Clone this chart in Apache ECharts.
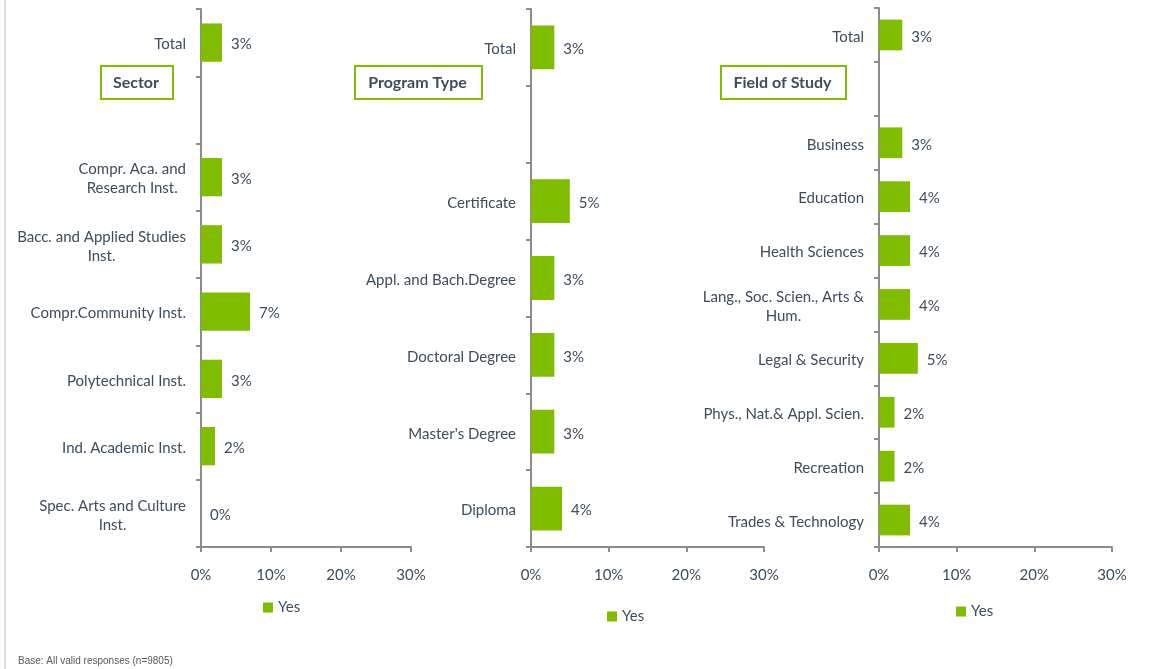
<!DOCTYPE html>
<html>
<head>
<meta charset="utf-8">
<script src="https://cdn.jsdelivr.net/npm/echarts@6/dist/echarts.min.js"></script>
<style>
html,body{margin:0;padding:0;background:#fff;}
#c{width:1151px;height:669px;}
</style>
</head>
<body>
<div id="c"></div>
<script>
// ---- data ----
const sectorCategories = ['Total', '', 'Compr. Aca. and\nResearch Inst.', 'Bacc. and Applied Studies\nInst.', 'Compr.Community Inst.', 'Polytechnical Inst.', 'Ind. Academic Inst.', 'Spec. Arts and Culture\nInst.'];
const sectorValues = [3, null, 3, 3, 7, 3, 2, 0];

const programCategories = ['Total', '', 'Certificate', 'Appl. and Bach.Degree', 'Doctoral Degree', "Master's Degree", 'Diploma'];
const programValues = [3, null, 5, 3, 3, 3, 4];

const fieldCategories = ['Total', '', 'Business', 'Education', 'Health Sciences', 'Lang., Soc. Scien., Arts &\nHum.', 'Legal & Security', 'Phys., Nat.& Appl. Scien.', 'Recreation', 'Trades & Technology'];
const fieldValues = [3, null, 3, 4, 4, 4, 5, 2, 2, 4];

const xTicks = [0, 10, 20, 30];
const panelTitles = ['Sector', 'Program Type', 'Field of Study'];
const seriesName = 'Yes';

// ---- style ----
const GREEN = '#80bc00';
const TXT = '#3d4d5c';
const AXIS = '#8c8c8c';
const FONT = 'Lato, "Open Sans", sans-serif';
const FS = 15;

const chart = echarts.init(document.getElementById('c'), null, {renderer: 'canvas'});

const grids = [
  {left: 201, top: 9, width: 210, height: 538},
  {left: 531, top: 9, width: 233, height: 538},
  {left: 879, top: 8, width: 233, height: 539}
];
const cats = [sectorCategories, programCategories, fieldCategories];
const vals = [sectorValues, programValues, fieldValues];

function catFormatter(v) {
  return v.split('\n').map(l => '{c|' + l + '}').join('\n');
}

const xAxes = grids.map((g, i) => ({
  type: 'value', gridIndex: i, min: xTicks[0], max: xTicks[xTicks.length - 1], interval: 10,
  axisLine: {show: true, lineStyle: {color: AXIS, width: 2}},
  axisTick: {show: true, length: 5, lineStyle: {color: AXIS, width: 2}},
  splitLine: {show: false},
  axisLabel: {formatter: '{value}%', color: TXT, fontSize: FS, fontFamily: FONT, margin: 21}
}));

const yAxes = grids.map((g, i) => ({
  type: 'category', gridIndex: i, data: cats[i], inverse: true,
  axisLine: {show: true, lineStyle: {color: AXIS, width: 2}},
  axisTick: {show: true, length: 5, lineStyle: {color: AXIS, width: 2}},
  axisLabel: {
    color: TXT, fontSize: FS, fontFamily: FONT, margin: 15, align: 'right',
    padding: [4, 0, 0, 0],
    formatter: catFormatter,
    rich: {c: {align: 'center', color: TXT, fontSize: FS, fontFamily: FONT, lineHeight: 19}}
  }
}));

const series = grids.map((g, i) => ({
  name: seriesName, type: 'bar', xAxisIndex: i, yAxisIndex: i,
  data: vals[i], barCategoryGap: '43%',
  itemStyle: {color: GREEN},
  label: {show: true, position: 'right', distance: 9, offset: [0, 2], formatter: '{c}%', color: TXT, fontSize: FS, fontFamily: FONT}
}));

const legendPos = [{left: 263, top: 600}, {left: 607, top: 609}, {left: 956, top: 604}];
const legends = legendPos.map(p => ({
  data: [seriesName], left: p.left, top: p.top, padding: 0, itemWidth: 10, itemHeight: 10, icon: 'rect',
  itemGap: 4, textStyle: {color: TXT, fontSize: FS, fontFamily: FONT}, selectedMode: false
}));

const boxes = [
  {x: 100, y: 65, w: 72, h: 33},
  {x: 354, y: 65, w: 127, h: 33},
  {x: 720, y: 65, w: 125, h: 33}
];
const graphics = [];
boxes.forEach((b, i) => {
  graphics.push({type: 'rect', left: b.x, top: b.y, shape: {width: b.w, height: b.h},
    style: {fill: '#fff', stroke: GREEN, lineWidth: 2}});
  graphics.push({type: 'text', x: b.x + b.w / 2, y: b.y + b.h / 2 + 1,
    style: {text: panelTitles[i], fill: TXT, font: 'bold 16px ' + FONT, textAlign: 'center', textVerticalAlign: 'middle'}});
});
graphics.push({type: 'rect', left: 4, top: 0, shape: {width: 2, height: 669}, style: {fill: '#dcdcdc'}});
graphics.push({type: 'text', left: 18, top: 656,
  style: {text: 'Base: All valid responses (n=9805)', fill: '#595959', font: '10px "Liberation Sans", Arial, sans-serif'}});

chart.setOption({
  animation: false,
  backgroundColor: '#fff',
  grid: grids,
  xAxis: xAxes,
  yAxis: yAxes,
  series: series,
  legend: legends,
  graphic: graphics
});
</script>
</body>
</html>
